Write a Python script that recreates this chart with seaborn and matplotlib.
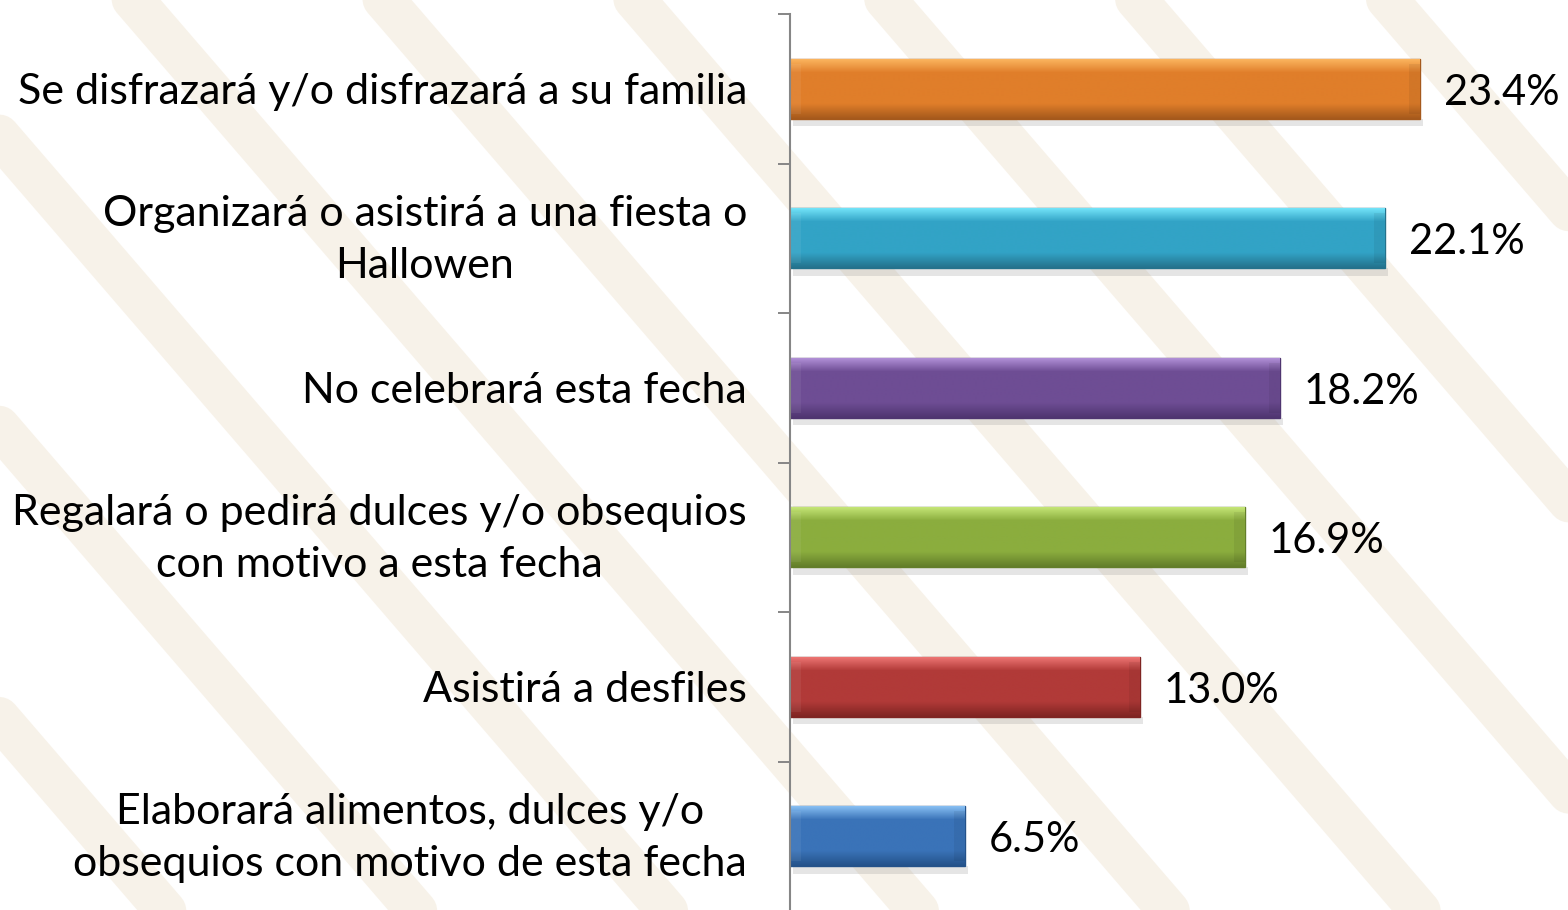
# Actividades planeadas para Halloween: barras horizontales con efecto biselado

import matplotlib
matplotlib.use("Agg")
import matplotlib.pyplot as plt
from matplotlib import transforms
from matplotlib.colors import LinearSegmentedColormap
import numpy as np
import pandas as pd
import seaborn as sns


# ======================== Datos ========================
CATEGORIAS = [
    "Se disfrazará y/o disfrazará a su familia",
    "Organizará o asistirá a una fiesta o\nHallowen",
    "No celebrará esta fecha",
    "Regalará o pedirá dulces y/o obsequios\ncon motivo a esta fecha",
    "Asistirá a desfiles",
    "Elaborará alimentos, dulces y/o\nobsequios con motivo de esta fecha",
]
PORCENTAJES = [23.4, 22.1, 18.2, 16.9, 13.0, 6.5]

# color base, brillo superior, sombra inferior
COLORES = [
    ("#E07E2A", "#FBB45E", "#A5591C"),
    ("#32A3C6", "#72E3F8", "#24728C"),
    ("#6E4D94", "#B08FD6", "#4F3570"),
    ("#8BAD3E", "#C4E576", "#637E2A"),
    ("#B13A38", "#EC7472", "#7F2422"),
    ("#3A73B8", "#86BEF2", "#24528A"),
]

FUENTE = ["Lato", "DejaVu Sans"]
TAM_TEXTO = 31
TAM_VALOR = 30


# ======================== Dibujo ========================
def pintar_degradado(ax, patch, base, claro, oscuro):
    """Rellena la barra con un degradado vertical y extremos biselados."""
    x0, y0 = patch.get_x(), patch.get_y()
    w, h = patch.get_width(), patch.get_height()
    cmap = LinearSegmentedColormap.from_list(
        "bisel", [(0.0, claro), (0.22, base), (0.75, base), (1.0, oscuro)]
    )
    grad = np.linspace(0, 1, 64).reshape(-1, 1)
    img = ax.imshow(
        grad,
        cmap=cmap,
        aspect="auto",
        origin="upper",
        extent=(x0, x0 + w, y0 + h, y0),
        interpolation="bilinear",
        zorder=patch.get_zorder() + 0.1,
    )
    img.set_clip_path(patch)

    # extremos: un poco más claros a la izquierda y oscuros a la derecha
    borde = 0.4
    for xa, xb, col in [(x0, x0 + borde, "white"), (x0 + w - borde, x0 + w, "black")]:
        ax.fill_between([xa, xb], y0 + 0.08 * h, y0 + 0.92 * h, color=col,
                        alpha=0.06, lw=0, zorder=patch.get_zorder() + 0.2)

    # sombra suave debajo de la barra
    ax.fill_between([x0 + 0.1, x0 + w + 0.1], y0 + h, y0 + h + 0.05,
                    color="#999999", alpha=0.25, lw=0,
                    zorder=patch.get_zorder() - 0.1)
    patch.set_edgecolor(oscuro)
    patch.set_linewidth(1.0)


if __name__ == "__main__":
    sns.set_theme(style="white")
    plt.rcParams["font.family"] = FUENTE

    df = pd.DataFrame({"categoria": CATEGORIAS, "porcentaje": PORCENTAJES})

    fig = plt.figure(figsize=(15.68, 9.10), dpi=100)
    fig.patch.set_facecolor("white")

    # marca de agua beige de fondo
    fondo = fig.add_axes([0, 0, 1, 1], zorder=-1)
    fondo.set_xlim(0, 1)
    fondo.set_ylim(0, 1)
    fondo.axis("off")
    for k in np.arange(-0.9, 1.2, 0.16):
        fondo.plot([k, k + 0.55], [1.05, -0.05], color="#F7F1E7", lw=30,
                   solid_capstyle="round", alpha=0.9)

    ax = fig.add_axes([790 / 1568, -1 / 910, 700 / 1568, 897 / 910])
    ax.patch.set_alpha(0)

    sns.barplot(
        data=df,
        x="porcentaje",
        y="categoria",
        color="#888888",
        width=0.4,
        orient="h",
        ax=ax,
    )

    for patch, (base, claro, oscuro) in zip(list(ax.patches), COLORES):
        patch.set_facecolor(base)
        pintar_degradado(ax, patch, base, claro, oscuro)

    for container in ax.containers:
        etiquetas = ax.bar_label(container, fmt="%.1f%%", padding=17,
                                 fontsize=TAM_VALOR, family=FUENTE, color="black")
        for t in etiquetas:
            dx, dy = t.xyann
            t.xyann = (dx, dy - 3)

    ax.set_xlim(0, 26)
    ax.set_ylim(len(CATEGORIAS) - 0.5, -0.5)
    ax.set_xlabel("")
    ax.set_ylabel("")
    ax.set_xticks([])

    ax.set_yticks(range(len(CATEGORIAS)))
    ax.set_yticklabels(CATEGORIAS, fontsize=TAM_TEXTO, multialignment="center",
                       color="black", linespacing=1.45)
    ax.set_yticks(np.arange(-0.5, len(CATEGORIAS), 1.0), minor=True)
    ax.tick_params(axis="y", which="major", length=0, pad=31)
    ax.tick_params(axis="y", which="minor", length=9, width=1.4,
                   color="#868686", left=True)

    # las etiquetas de dos líneas quedan un poco más arriba en el original
    subir = transforms.ScaledTranslation(0, 6 / 72, fig.dpi_scale_trans)
    for tick in ax.yaxis.get_major_ticks():
        if "\n" in tick.label1.get_text():
            tick.label1.set_transform(tick.label1.get_transform() + subir)

    for lado in ["top", "right", "bottom"]:
        ax.spines[lado].set_visible(False)
    ax.spines["left"].set_color("#868686")
    ax.spines["left"].set_linewidth(1.5)

    fig.savefig("out.png", dpi=100)
    plt.close(fig)
